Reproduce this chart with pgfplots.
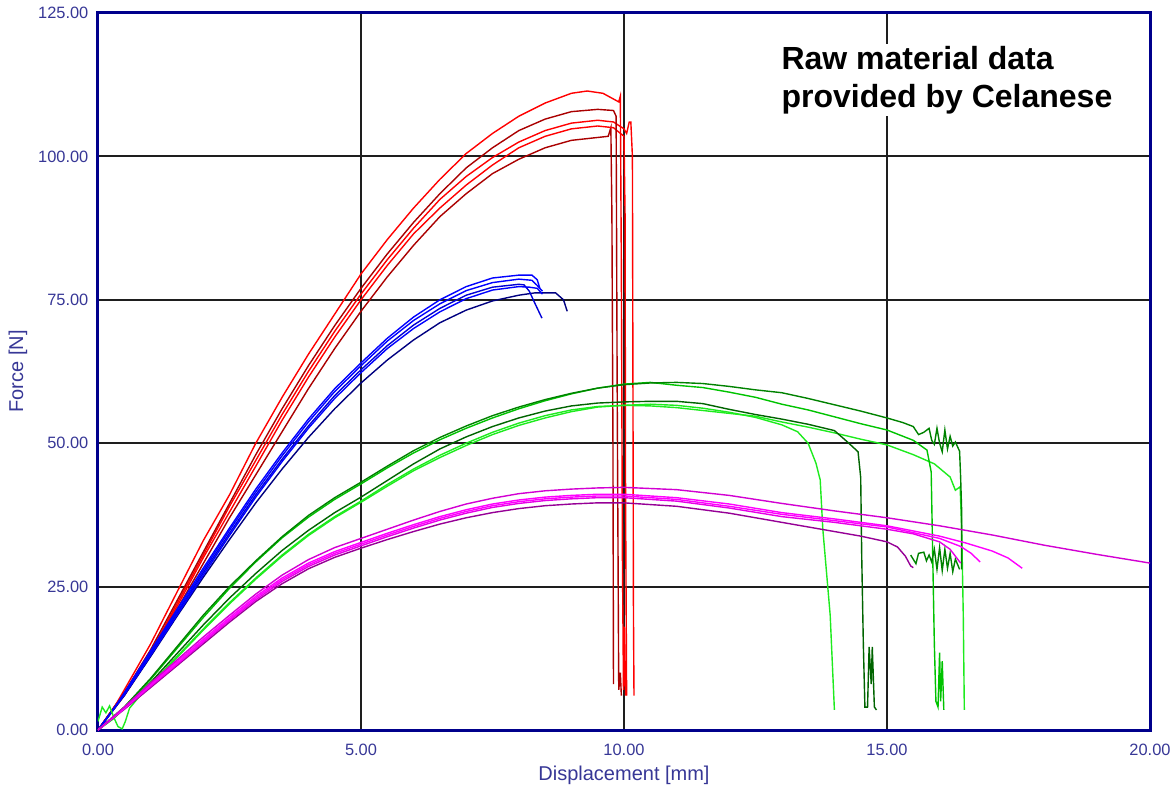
\documentclass[border=0pt]{standalone}
\usepackage{fontspec}
\setmainfont{Liberation Sans}
\usepackage{pgfplots}
\pgfplotsset{compat=1.18}
\definecolor{axisblue}{RGB}{0,0,140}
\definecolor{lblblue}{RGB}{55,55,150}
\definecolor{gridc}{RGB}{30,30,30}
\definecolor{rbright}{RGB}{255,0,0}
\definecolor{rdark}{RGB}{170,0,0}
\definecolor{bbright}{RGB}{0,0,255}
\definecolor{bmid}{RGB}{0,0,215}
\definecolor{bnavy}{RGB}{0,0,128}
\definecolor{gbright}{RGB}{30,235,30}
\definecolor{gmid}{RGB}{0,195,0}
\definecolor{gdark}{RGB}{0,130,0}
\definecolor{gdeep}{RGB}{0,100,0}
\definecolor{mtop}{RGB}{210,0,210}
\definecolor{mbright}{RGB}{255,0,255}
\definecolor{mmid}{RGB}{230,0,230}
\definecolor{mpurple}{RGB}{150,0,150}
\begin{document}
\begin{tikzpicture}
\useasboundingbox (-49pt,-28.5pt) rectangle (537pt,365pt);
\begin{axis}[
  at={(0,0)}, anchor=south west,
  scale only axis, width=526pt, height=358.5pt,
  xmin=0, xmax=20, ymin=0, ymax=125,
  xtick={0,5,10,15,20}, ytick={0,25,50,75,100,125},
  xticklabels={0.00,5.00,10.00,15.00,20.00},
  yticklabels={0.00,25.00,50.00,75.00,100.00,125.00},
  grid=major,
  major grid style={draw=gridc, line width=1pt},
  axis line style={draw=axisblue, line width=1.5pt},
  major tick length=0pt,
  tick label style={font=\fontsize{8.2}{9}\selectfont, text=lblblue},
  xticklabel style={yshift=-3.3pt},
  yticklabel style={xshift=-1.3pt},
  xlabel={Displacement [mm]}, ylabel={Force [N]},
  every axis x label/.style={at={(axis description cs:0.5,-0.0628)}, anchor=center, font=\fontsize{10}{12}\selectfont, text=lblblue},
  every axis y label/.style={at={(axis description cs:-0.076,0.5)}, anchor=center, rotate=90, font=\fontsize{10}{12}\selectfont, text=lblblue},
  every axis plot/.append style={line width=0.7pt, mark=none},
]
% ---------------- red ----------------
\addplot[rdark] coordinates {(0,0)(0.5,6)(1,13)(1.5,21)(2,29)(2.5,37)(3,44.5)(3.5,52)(4,59.5)(4.5,66.5)(5,73)(5.5,79)(6,84.5)(6.5,89.5)(7,93.5)(7.5,97)(8,99.5)(8.5,101.5)(9,102.8)(9.5,103.3)(9.7,103.5)(9.75,105)(9.77,90)(9.79,50)(9.8,8)};
\addplot[rbright] coordinates {(0,0)(0.5,6.5)(1,13.5)(1.5,21.5)(2,30)(2.5,38)(3,46)(3.5,54)(4,61.5)(4.5,68.5)(5,75)(5.5,81)(6,86.5)(6.5,91)(7,95)(7.5,98.5)(8,101.5)(8.5,103.5)(9,104.8)(9.5,105.3)(9.8,105)(10,103.5)(10.02,90)(10.03,40)(10.05,6)};
\addplot[rbright] coordinates {(0,0)(0.5,6.5)(1,13.5)(1.5,22)(2,30.5)(2.5,39)(3,47)(3.5,55)(4,62.5)(4.5,69.5)(5,76)(5.5,82)(6,87.5)(6.5,92.5)(7,96.5)(7.5,99.8)(8,102.5)(8.5,104.5)(9,105.8)(9.5,106.3)(9.8,106)(10,104.8)(10.05,104)(10.1,106)(10.13,106)(10.16,100)(10.17,60)(10.18,20)(10.19,6)};
\addplot[rdark] coordinates {(0,0)(0.5,6.5)(1,14)(1.5,22.5)(2,31)(2.5,39.5)(3,48)(3.5,56)(4,63.5)(4.5,70.5)(5,77)(5.5,83)(6,88.5)(6.5,93.5)(7,98)(7.5,101.5)(8,104.5)(8.5,106.5)(9,107.8)(9.5,108.2)(9.8,108)(9.85,107)(9.87,60)(9.9,7)(9.93,10)(9.95,6)};
\addplot[rbright] coordinates {(0,0)(0.25,3)(0.5,7)(0.75,11)(1,15)(1.25,19.5)(1.5,24)(2,33)(2.5,41)(3,50)(3.5,58)(4,65.5)(4.5,72.5)(5,79.5)(5.5,85.5)(6,91)(6.5,96)(7,100.5)(7.5,104)(8,107)(8.5,109.3)(9,111)(9.3,111.4)(9.6,111)(9.8,110)(9.9,109.5)(9.93,110.5)(9.95,80)(9.97,30)(9.99,7)(10.01,18)(10.03,6)};
% ---------------- blue ----------------
\addplot[bnavy] coordinates {(0,0)(0.5,6)(1,12.8)(1.5,19.8)(2,26.6)(2.5,33.2)(3,39.6)(3.5,45.5)(4,51)(4.5,56)(5,60.5)(5.5,64.5)(6,68)(6.5,71)(7,73.2)(7.5,74.8)(8,75.8)(8.3,76.2)(8.7,76.2)(8.85,75)(8.92,73)};
\addplot[bmid] coordinates {(0,0)(0.5,6.2)(1,13.2)(1.5,20.3)(2,27.4)(2.5,34.3)(3,41)(3.5,47.2)(4,53)(4.5,58.3)(5,62.8)(5.5,67)(6,70.6)(6.5,73.5)(7,75.8)(7.5,77.2)(8,77.7)(8.1,77.6)(8.2,76.5)(8.3,74.5)(8.44,71.8)};
\addplot[bbright] coordinates {(0,0)(0.5,6.1)(1,13)(1.5,20)(2,27)(2.5,33.9)(3,40.6)(3.5,46.8)(4,52.6)(4.5,57.8)(5,62.3)(5.5,66.5)(6,70)(6.5,72.9)(7,75.2)(7.5,76.7)(8,77.3)(8.2,77.2)(8.35,77)(8.45,76)};
\addplot[bbright] coordinates {(0,0)(0.5,6.3)(1,13.5)(1.5,20.6)(2,27.8)(2.5,34.8)(3,41.5)(3.5,47.8)(4,53.7)(4.5,59)(5,63.5)(5.5,67.8)(6,71.4)(6.5,74.3)(7,76.6)(7.5,78)(8,78.6)(8.25,78.4)(8.35,77.5)(8.45,76.5)};
\addplot[bbright] coordinates {(0,0)(0.25,3)(0.5,6.5)(1,13.8)(1.5,21)(2,28.2)(2.5,35.2)(3,42)(3.5,48.3)(4,54.2)(4.5,59.5)(5,64)(5.5,68.3)(6,72)(6.5,75)(7,77.3)(7.5,78.8)(8,79.3)(8.25,79.3)(8.35,78.5)(8.4,77)};
% ---------------- green ----------------
\addplot[gbright] coordinates {(0,1.5)(0.08,4)(0.15,3)(0.22,4.2)(0.3,2.2)(0.38,0.6)(0.46,0.2)(0.52,1.5)(0.6,3.8)(0.8,6)(1,7.8)(1.5,12.6)(2,17.4)(2.5,22)(3,26.3)(3.5,30.3)(4,33.9)(4.5,37)(5,39.7)(5.5,42.5)(6,45.2)(6.5,47.5)(7,49.6)(7.5,51.5)(8,53.1)(8.5,54.4)(9,55.5)(9.5,56.3)(10,56.6)(10.5,56.8)(11,56.6)(11.5,56.1)(12,55.4)(12.5,54.5)(13,53.2)(13.3,52)(13.5,50)(13.65,46.5)(13.73,43.6)(13.78,35)(13.92,20)(14,3.5)};
\addplot[gbright] coordinates {(0,0)(0.3,2)(0.5,3.8)(1,8)(1.5,12.8)(2,17.6)(2.5,22.2)(3,26.5)(3.5,30.5)(4,34.1)(4.5,37.2)(5,39.9)(5.5,42.8)(6,45.5)(6.5,47.9)(7,50)(7.5,51.9)(8,53.5)(8.5,54.8)(9,55.8)(9.5,56.4)(10,56.6)(10.5,56.5)(11,56.2)(11.5,55.7)(12,55.2)(12.5,54.7)(13,53.7)(13.5,52.8)(14,51.8)(14.5,50.7)(15,49.7)(15.5,48)(15.9,46.4)(16.2,44.1)(16.3,41.8)(16.39,42.4)(16.42,35)(16.45,20)(16.47,3.5)};
\addplot[gdeep] coordinates {(0,0)(0.5,3.8)(1,8.3)(1.5,13.3)(2,18.3)(2.5,23)(3,27.3)(3.5,31.3)(4,34.8)(4.5,37.9)(5,40.6)(5.5,43.5)(6,46.4)(6.5,49)(7,51.1)(7.5,52.9)(8,54.4)(8.5,55.6)(9,56.5)(9.5,57)(10,57.2)(10.5,57.3)(11,57.3)(11.5,56.9)(12,55.9)(12.5,55)(13,54.2)(13.5,53.3)(14,52.2)(14.25,50.2)(14.45,48.5)(14.5,44)(14.52,30)(14.55,15)(14.58,4)(14.63,4)(14.66,14.5)(14.7,8)(14.72,14.5)(14.76,4)(14.8,3.5)};
\addplot[gmid] coordinates {(0,0)(0.5,4)(1,8.8)(1.5,14.2)(2,19.6)(2.5,24.7)(3,29.3)(3.5,33.5)(4,37.1)(4.5,40.2)(5,42.9)(5.5,45.7)(6,48.3)(6.5,50.6)(7,52.6)(7.5,54.4)(8,56)(8.5,57.4)(9,58.6)(9.5,59.6)(10,60.3)(10.5,60.6)(11,60.1)(11.5,59.7)(12,58.9)(12.5,58)(13,56.8)(13.5,55.8)(14,54.6)(14.5,53.4)(15,52.3)(15.5,50.5)(15.76,48.8)(15.84,45)(15.87,30)(15.9,15)(15.93,5)(15.97,4)(16,13.5)(16.02,5)(16.05,12)(16.08,3.5)};
\addplot[gdark] coordinates {(0,0)(0.5,4)(1,9)(1.5,14.5)(2,20)(2.5,25)(3,29.5)(3.5,33.7)(4,37.4)(4.5,40.5)(5,43.2)(5.5,46)(6,48.7)(6.5,51)(7,53)(7.5,54.8)(8,56.3)(8.5,57.6)(9,58.7)(9.5,59.6)(10,60.2)(10.5,60.5)(11,60.6)(11.5,60.4)(12,59.9)(12.5,59.3)(13,58.8)(13.5,57.8)(14,56.7)(14.5,55.6)(15,54.4)(15.3,53.6)(15.5,52.9)(15.6,51.5)(15.7,51.9)(15.8,52.6)(15.85,50.5)(15.9,49.8)(15.95,52.6)(16,50)(16.05,48.5)(16.1,52.3)(16.15,49)(16.2,51.2)(16.25,49.5)(16.3,50.2)(16.38,48.6)(16.4,44)(16.42,38)(16.42,28)};
\addplot[gdark] coordinates {(15.45,30.5)(15.55,29)(15.6,30.8)(15.7,31)(15.75,29.5)(15.8,30.5)(15.85,29.3)(15.9,31.5)(15.95,28)(16,31.8)(16.05,27.8)(16.1,31.5)(16.15,28.2)(16.2,30.8)(16.25,27.6)(16.3,29.8)(16.38,28)};
% ---------------- magenta ----------------
\addplot[mpurple] coordinates {(0,0)(0.5,3.6)(1,7.4)(1.5,11.2)(2,15)(2.5,18.8)(3,22.4)(3.5,25.5)(4,28.1)(4.5,30.1)(5,31.7)(5.5,33.2)(6,34.6)(6.5,35.9)(7,37)(7.5,37.9)(8,38.6)(8.5,39.1)(9,39.4)(9.5,39.6)(10,39.6)(11,39)(12,37.8)(13,36.2)(14,34.6)(14.5,33.8)(15,32.8)(15.2,31.9)(15.35,30.3)(15.45,28.6)(15.5,28.3)};
\addplot[mmid] coordinates {(0,0)(0.5,3.7)(1,7.6)(1.5,11.4)(2,15.3)(2.5,19.1)(3,22.7)(3.5,25.9)(4,28.5)(4.5,30.5)(5,32.1)(5.5,33.7)(6,35.2)(6.5,36.6)(7,37.8)(7.5,38.8)(8,39.5)(8.5,40)(9,40.3)(9.5,40.5)(10,40.5)(11,39.9)(12,38.7)(13,37.2)(14,36.2)(15,35)(15.5,34.2)(16,32.8)(16.2,31.5)(16.4,29.1)};
\addplot[mbright] coordinates {(0,0)(0.5,3.8)(1,7.8)(1.5,11.6)(2,15.5)(2.5,19.3)(3,23)(3.5,26.2)(4,28.8)(4.5,30.8)(5,32.4)(5.5,34)(6,35.5)(6.5,36.9)(7,38.1)(7.5,39.1)(8,39.8)(8.5,40.3)(9,40.6)(9.5,40.8)(10,40.8)(11,40.2)(12,39)(13,37.6)(14,36.5)(15,35.4)(16,33.4)(16.4,32)(16.6,30.8)(16.77,29.3)};
\addplot[mbright] coordinates {(0,0)(0.5,3.9)(1,8)(1.5,11.9)(2,15.8)(2.5,19.6)(3,23.3)(3.5,26.5)(4,29.1)(4.5,31.1)(5,32.7)(5.5,34.3)(6,35.8)(6.5,37.2)(7,38.4)(7.5,39.4)(8,40.1)(8.5,40.6)(9,40.9)(9.5,41.1)(10,41.1)(11,40.5)(12,39.4)(13,37.9)(14,36.8)(15,35.6)(16,33.8)(16.5,32.6)(17,31.2)(17.3,30)(17.57,28.2)};
\addplot[mtop] coordinates {(0,0)(0.5,4)(1,8.2)(1.5,12.2)(2,16.2)(2.5,20)(3,23.7)(3.5,27)(4,29.7)(4.5,31.8)(5,33.4)(5.5,35)(6,36.6)(6.5,38.1)(7,39.4)(7.5,40.4)(8,41.2)(8.5,41.7)(9,42)(9.5,42.2)(10,42.3)(11,41.9)(12,40.9)(13,39.5)(14,38.2)(15,37)(16,35.6)(17,34)(18,32.2)(19,30.6)(20,29.1)};
\node[anchor=north west, fill=white, inner sep=1pt, align=left, font=\bfseries\fontsize{16}{19}\selectfont] at (axis cs:12.95,119.6) {Raw material data\\provided by Celanese};
\end{axis}
\end{tikzpicture}
\end{document}
